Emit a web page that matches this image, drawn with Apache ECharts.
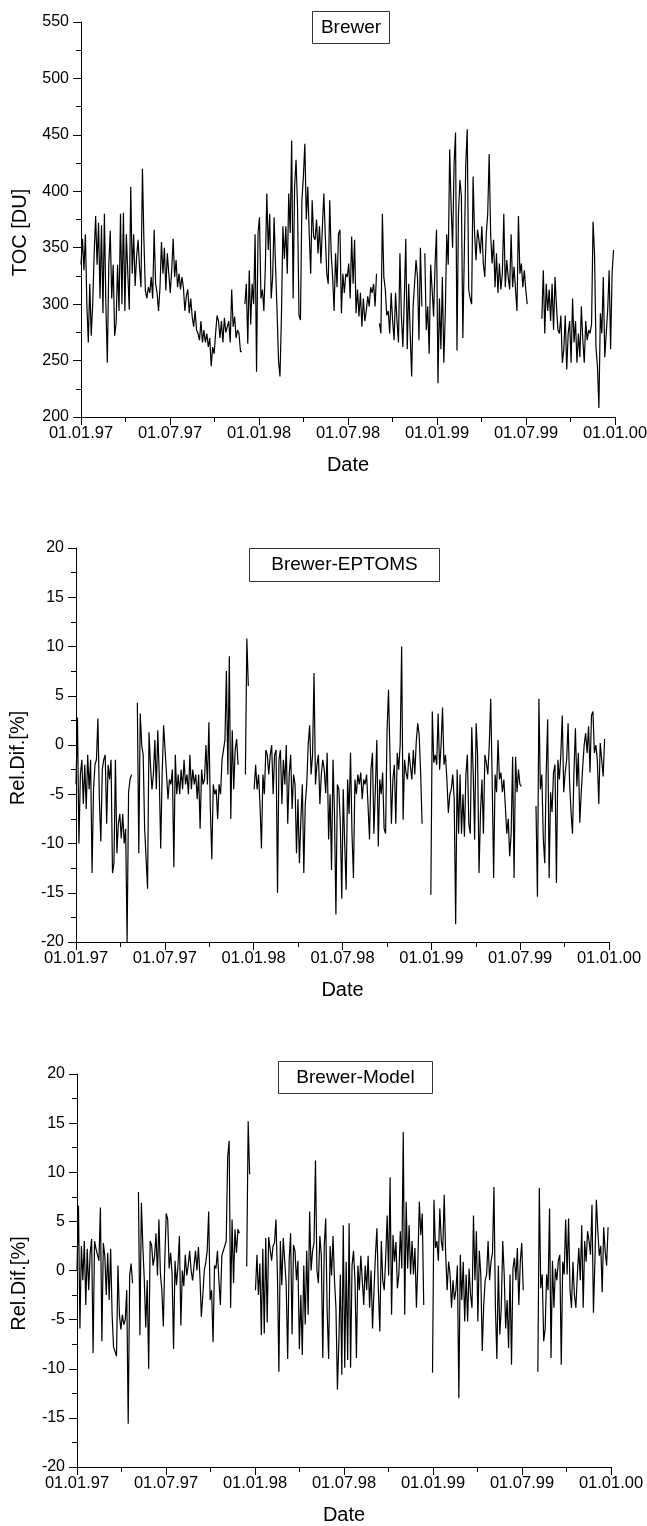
<!DOCTYPE html>
<html>
<head>
<meta charset="utf-8">
<script src="https://cdn.jsdelivr.net/npm/echarts/dist/echarts.min.js"></script>
<style>
html,body{margin:0;padding:0;background:#fff}
#c{width:647px;height:1526px}
</style>
</head>
<body>
<div id="c"></div>
<script>
// ---------- data ----------
const stepDays = 3; // one value every 3 days starting 01.01.97
const xTickLabels = ['01.01.97','01.07.97','01.01.98','01.07.98','01.01.99','01.07.99','01.01.00'];
const panelTitles = ['Brewer','Brewer-EPTOMS','Brewer-Model'];
const yNames = ['TOC [DU]','Rel.Dif.[%]','Rel.Dif.[%]'];

const brewerToc = [
335,358,330,362,300,266,318,272,300,345,
378,335,372,305,370,292,380,300,248,335,
365,305,335,272,283,335,294,380,300,381,
294,362,327,295,404,327,362,316,342,357,
333,315,420,357,312,305,315,310,324,305,
366,318,310,294,315,355,327,350,312,345,
345,310,330,358,324,339,315,327,313,324,
315,294,307,313,292,305,289,280,294,277,
274,268,285,266,277,266,274,262,270,245,
262,256,274,290,285,270,285,266,288,275,
274,285,266,313,280,289,270,277,274,258,
258,null,300,318,265,330,282,318,300,362,
240,363,377,305,313,294,333,398,348,380,
305,324,377,333,294,250,236,289,369,340,
369,327,398,363,445,305,404,428,386,290,
286,392,413,442,375,404,363,327,392,360,
357,375,345,369,336,369,398,360,327,318,
392,345,324,294,345,315,362,366,292,327,
310,327,324,336,305,360,318,357,292,313,
289,310,280,305,285,294,307,298,315,310,
318,298,327,null,283,274,380,324,313,290,
294,274,310,285,268,310,285,266,345,289,
262,305,358,260,318,274,236,298,318,339,
324,268,350,298,null,345,277,298,256,335,
313,289,335,366,230,305,260,324,248,292,
362,335,437,386,350,424,452,259,380,410,
396,270,345,424,455,313,305,300,413,363,
339,366,357,345,369,336,324,362,380,433,
362,336,357,315,345,310,336,313,327,380,
315,339,324,313,362,315,333,313,294,378,
327,336,315,330,313,300,null,null,null,null,
null,null,null,null,null,287,330,274,318,294,
313,285,318,277,324,298,277,274,290,248,
260,290,242,274,285,248,305,266,285,248,
274,253,298,268,248,285,268,277,274,283,
373,345,262,245,208,292,274,324,253,274,
295,330,260,327,348
];

const brewerEptoms = [
-4,2.8,-10,-3,-1.5,-6,-2,-6.5,-1,-4.5,
-1.5,-13,-4.5,-2,-1.5,2.7,-5.5,-9.8,-2.5,-1.5,
-1,-8,-2,-3.5,-1.5,-13,-12,-1.5,-11,-8,
-7,-9.5,-7,-10,-8.5,-20,-4.8,-3.5,-3,null,
null,null,4.3,-11,3.2,0,-1,-8.5,-11.5,-14.6,
1.3,-2,-4.5,-3,0.5,-4.5,1.5,-3,-10.5,-3,
2,1.8,-3,-5.5,-3.5,-4,-2.5,-12.4,-1,-5,
-3,-5,-2.5,-4.5,-1.5,-4,-3,-5,-1,-4.5,
-2.5,-4,-3,-5.5,-3,-8.5,-2.5,-4,-3.5,0,
-4,2.3,-6.5,-11.6,-4,-5,-4.5,-7.5,-4,-5,
-1.5,-0.5,0.5,7.5,-3,9,-7.5,1.5,-4.5,-0.5,
0.6,-2,null,null,null,null,-3,10.8,6,null,
null,null,-4.5,-2,-4.5,-3,-6,-10.5,-3,-5,
-0.5,-1,-3,-1,0,-5,-1,-0.5,-15,-1.5,
-0.5,-6,-1.5,-4,0,-8,-3,-1,-6.5,-3,
-4,-11,-5.5,-12,-7.5,-4,-13,-6,-4,0,
2,-3,-1,7.3,-4,-2,-1,-6,-3,-1.5,
-2.5,-4.9,-0.8,-9.6,-5,-12.7,-1.5,-6.9,-17.2,-4,
-4.5,-8,-15.6,-4.5,-10,-14.7,-3.5,-7,-0.8,-9,
-13.5,-3.5,-5,-3,-4,-2.8,-5.5,-3.5,-4,-3,
-6.2,-9.6,-2.5,-0.8,-9,-4.5,0.5,-10.3,-3.5,-5,
-2.8,-8.5,-9,1.4,5.6,-1,-8,-3.5,-2,-8,
-0.8,-2.5,0,10,-7.6,-1.5,-2.8,-3.5,-0.8,-1,
-3.5,-0.5,-3,0.3,2.2,1,-2.8,-8,null,null,
null,null,null,-15.2,3.4,-1.8,-1,-2,3.2,-2.5,
0,3.8,-2,-1,-3.5,-6.9,-5,-4.5,-3,-5.5,
-18.2,-2.5,-9,-3,-9,-5,-9.3,-3,-1,-8,
-9,1.8,-2.8,-9.6,2.2,-1,-13,-6.8,-3.5,-9,
-1,-1.8,-3,0,4.7,-3.5,-13.5,-3,-4.8,0.5,
-3.5,-2.8,-4.8,-3.5,-6.2,-9,-7.5,-11.3,-9,-1.2,
-13.5,-1.2,-4.8,-2.5,-4,-4.2,null,null,null,null,
null,null,null,null,null,-6.2,-15.4,4.7,-4.5,-3,
-9.5,-12,-2.8,2.6,-13.5,-4.8,-6.8,-2.8,-2,-14,
-1.5,-3.5,-1,3,-4.8,-2.8,-1.5,2.2,-3.8,-6.8,
-9,-2.8,1.7,-4.2,-0.8,-7.9,-4.8,-2.2,0,1.2,
-0.8,1.9,-2.8,3,3.4,-0.8,0,-1.5,-6,0.2,
-1.5,-3.2,0.6,null,null
];

const brewerModel = [
0,6.6,-5.9,2.5,-1,3,-3.5,2.2,-2,1.8,
3.2,-8.4,3,2.2,2,1,6.4,-7.2,2.8,1.5,
-2.5,1.8,-3,2.2,-4.5,-7.8,-8,-8.7,0.5,-4.5,
-6,-4.5,-5.5,-5,-2,-15.6,-0.5,0.7,-1.3,null,
null,null,8,-6.6,6.9,2.5,-1,-5.8,-1,-10,
3,2.6,0.5,1.4,3.8,-0.5,5.2,-0.3,-2,-5.7,
1,5.8,5.2,0.2,1.8,-0.4,-8,1,-1.5,0.5,
3.5,-5.6,0,-1.6,1.6,-0.5,0.5,2,0,-1,
0.5,2,0,2.4,-0.5,-4.7,-2.5,0,0.8,2,
6,-3,-2,-7.3,0.5,0.2,2,-1,-3.5,1.5,
1.5,2.5,3,11.6,13.2,-3.8,5.2,-1.3,4.2,1.8,
4.2,3.8,null,null,null,null,0.4,15.2,9.8,null,
null,null,-2,1.6,-2.5,0.7,-6.6,2.2,-6.4,3.3,
-5.3,3.4,3.6,1,2.5,2.8,5.2,-0.5,-10.3,3,
-1.5,3.3,3.5,-1.5,-9,1,3.8,-6.5,2.6,2,
-1,1,-8,-2.5,-8.6,0.5,-5.5,2,-4.5,6,
0,2,2.8,11.2,0,-1.3,3.5,1.5,-8.9,2.5,
5.3,-4.2,-9,2.5,-0.5,3.5,-1,-3.8,-12.1,-7.2,
-0.4,-10.6,4.6,-9.9,0.9,-9.1,4.8,-9.9,0.5,2,
-1,-8.9,0.5,-2,1.5,-1,-3.5,0.5,-2,1.5,
-3.8,0,-5.9,-2,1.6,4.3,-2,-6.2,3,-1,
-2,1.3,5.6,-0.5,9.5,-4.5,3.6,0.9,2.9,-1.8,
-0.4,4,0.2,14.1,-4.5,7,0.2,4.6,-0.4,3,
-0.4,2.3,-3.8,0.9,7,3.6,5.8,-3.5,null,null,
null,null,null,-10.4,7.2,2.3,3,1,6.3,3,
2,7.7,1.6,-2,0.9,-0.4,-3.8,-1,-3,-2,
0.5,-13,1.6,-3,0.9,-5.2,-0.4,-5.2,0.2,-2.5,
-3.8,5.6,-1,4,-5.2,2,-0.4,-8.2,-3.5,-1,
-0.4,3,-1,0.9,1.8,8.5,-3.8,-9,0.5,-6.5,
-3.8,3,-0.4,-5.9,-3,-7.9,-0.4,-9.6,0.2,1.3,
-1,2.3,-3.5,0.9,2.8,-2,null,null,null,null,
null,null,null,null,null,-10.3,8.4,-1.8,-0.4,-7.2,
-5.9,-0.4,-2,6.3,-8.9,1,-3.8,0.2,-1,1,
1.6,-9.6,0.9,-0.4,5.2,-0.4,5.3,-2,-3.8,0.9,
-2.5,-3.8,-0.4,2.3,-1,4.6,-3.8,3,0.9,4,
3,1.6,6.7,-4.3,1,7.2,4,1.5,2.5,-2.2,
4.4,2,0.5,4.4,null
];

// ---------- layout / style ----------
const FONT = "'Liberation Sans', Arial, Helvetica, sans-serif";
const TOTAL_DAYS = 1095;
const HALF_YEAR = 182.5;

const grids = [
  {left: 81, top: 22,   width: 534, height: 395},
  {left: 76, top: 548,  width: 533, height: 394},
  {left: 77, top: 1074, width: 534, height: 393}
];
const yRanges = [
  {min: 200, max: 550, interval: 50},
  {min: -20, max: 20, interval: 5},
  {min: -20, max: 20, interval: 5}
];
const yNameGaps = [51, 48, 48];
const boxes = [
  {x: 312, y: 11,   w: 77,  h: 32},
  {x: 249, y: 548,  w: 190, h: 33},
  {x: 278, y: 1061, w: 154, h: 32}
];
const seriesData = [brewerToc, brewerEptoms, brewerModel];

const axisLineStyle = {color: '#000', width: 1};

const xAxes = grids.map((g, i) => ({
  type: 'value', gridIndex: i,
  min: 0, max: TOTAL_DAYS, interval: HALF_YEAR,
  axisLine: {show: true, onZero: false, lineStyle: axisLineStyle},
  axisTick: {show: true, inside: false, length: 8, lineStyle: axisLineStyle},
  minorTick: {show: true, splitNumber: 2, length: 5, lineStyle: axisLineStyle},
  splitLine: {show: false}, minorSplitLine: {show: false},
  axisLabel: {
    show: true, color: '#000', fontFamily: FONT, fontSize: 16.5, margin: 8,
    hideOverlap: false, showMinLabel: true, showMaxLabel: true,
    formatter: v => xTickLabels[Math.round(v / HALF_YEAR)] || ''
  },
  name: 'Date', nameLocation: 'middle', nameGap: 38,
  nameTextStyle: {color: '#000', fontFamily: FONT, fontSize: 20}
}));

const yAxes = grids.map((g, i) => ({
  type: 'value', gridIndex: i,
  min: yRanges[i].min, max: yRanges[i].max, interval: yRanges[i].interval,
  axisLine: {show: true, onZero: false, lineStyle: axisLineStyle},
  axisTick: {show: true, inside: false, length: 8, lineStyle: axisLineStyle},
  minorTick: {show: true, splitNumber: 2, length: 5, lineStyle: axisLineStyle},
  splitLine: {show: false}, minorSplitLine: {show: false},
  axisLabel: {show: true, color: '#000', fontFamily: FONT, fontSize: 16, margin: 12,
    hideOverlap: false, showMinLabel: true, showMaxLabel: true},
  name: yNames[i], nameLocation: 'middle', nameGap: yNameGaps[i],
  nameTextStyle: {color: '#000', fontFamily: FONT, fontSize: 20, padding: [0, 26, 0, 0]}
}));

const series = seriesData.map((arr, i) => ({
  type: 'line', xAxisIndex: i, yAxisIndex: i,
  data: arr.map((v, k) => [k * stepDays, v]),
  showSymbol: false, symbol: 'none', connectNulls: false,
  lineStyle: {color: '#000', width: 1.2},
  itemStyle: {color: '#000'},
  emphasis: {disabled: true},
  z: 2
}));

const graphic = boxes.map((b, i) => ({
  type: 'group', left: b.x, top: b.y,
  children: [
    {type: 'rect', shape: {x: 0, y: 0, width: b.w, height: b.h},
     style: {fill: '#fff', stroke: '#333', lineWidth: 1}},
    {type: 'text', x: b.w / 2, y: b.h / 2,
     style: {text: panelTitles[i], fill: '#000', font: '19px ' + FONT,
             align: 'center', verticalAlign: 'middle'}}
  ]
}));

const chart = echarts.init(document.getElementById('c'), null, {renderer: 'canvas'});
chart.setOption({
  animation: false,
  backgroundColor: '#fff',
  grid: grids.map(g => Object.assign({containLabel: false, outerBoundsMode: 'none'}, g)),
  xAxis: xAxes,
  yAxis: yAxes,
  series: series,
  graphic: graphic
});
</script>
</body>
</html>
